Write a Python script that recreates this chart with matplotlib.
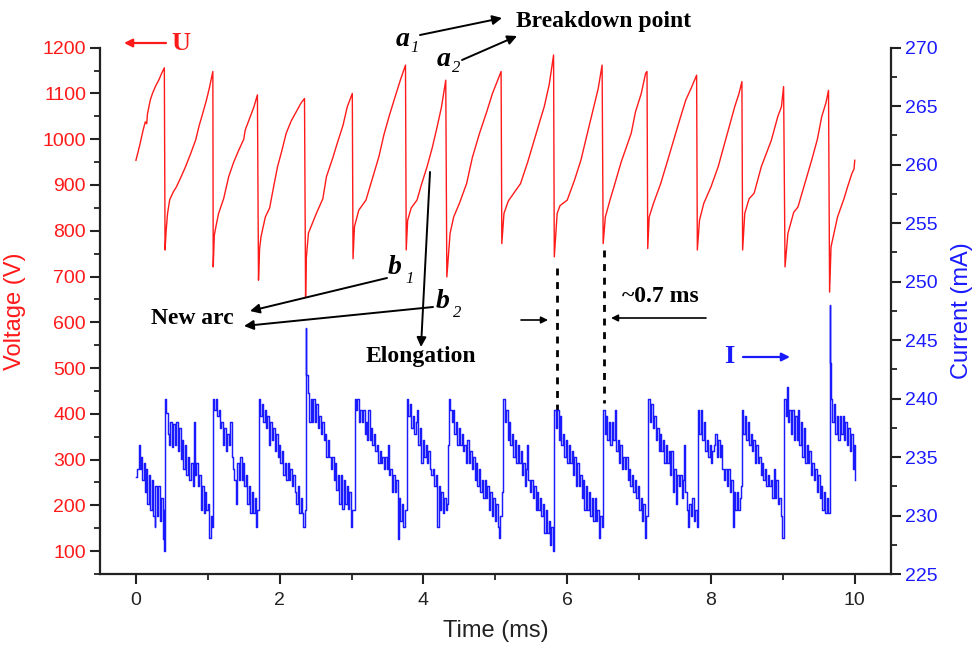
import matplotlib
matplotlib.use("Agg")
import matplotlib.pyplot as plt
from matplotlib.ticker import MultipleLocator

plt.rcParams['font.family'] = ['Liberation Sans', 'DejaVu Sans']

# ---------------- data ----------------
# Voltage U (V) vs time (ms)
volt_t = [
    0.00, 0.05, 0.10, 0.13, 0.15, 0.16, 0.20, 0.23, 0.27, 0.32, 0.36, 0.395,
    0.405, 0.42, 0.44, 0.47, 0.52, 0.56, 0.62, 0.69, 0.76, 0.83, 0.88, 0.93, 0.98, 1.02, 1.06, 1.07,
    1.075, 1.09, 1.12, 1.15, 1.22, 1.29, 1.36, 1.43, 1.50, 1.52, 1.58, 1.64, 1.69,
    1.705, 1.72, 1.74, 1.80, 1.86, 1.92, 1.97, 2.03, 2.09, 2.16, 2.23, 2.30, 2.345,
    2.36, 2.37, 2.40, 2.51, 2.60, 2.65, 2.74, 2.80, 2.88, 2.94, 3.01,
    3.02, 3.04, 3.10, 3.20, 3.30, 3.38, 3.45, 3.52, 3.60, 3.68, 3.75,
    3.76, 3.78, 3.83, 3.91, 3.97, 4.05, 4.12, 4.19, 4.25, 4.31,
    4.325, 4.37, 4.42, 4.50, 4.60, 4.68, 4.78, 4.88, 4.96, 5.08,
    5.09, 5.12, 5.18, 5.35, 5.45, 5.54, 5.62, 5.68, 5.75, 5.81,
    5.82, 5.86, 5.90, 6.00, 6.10, 6.19, 6.26, 6.37, 6.43, 6.485,
    6.50, 6.53, 6.60, 6.65, 6.75, 6.89, 6.95, 7.03, 7.09, 7.11,
    7.12, 7.14, 7.20, 7.30, 7.39, 7.48, 7.56, 7.65, 7.72, 7.80,
    7.81, 7.84, 7.90, 8.00, 8.10, 8.19, 8.26, 8.33, 8.39, 8.43,
    8.44, 8.47, 8.53, 8.60, 8.70, 8.84, 8.93, 8.98, 9.01,
    9.03, 9.07, 9.15, 9.21, 9.30, 9.40, 9.48, 9.54, 9.60, 9.635,
    9.65, 9.67, 9.76, 9.85, 9.90, 9.96, 9.99, 10.00,
]
volt_v = [
    954, 985, 1020, 1038, 1034, 1055, 1086, 1100, 1115, 1130, 1145, 1156,
    758, 800, 838, 868, 885, 895, 915, 940, 968, 998, 1030, 1057, 1085, 1111, 1140, 1148,
    721, 790, 815, 838, 870, 918, 950, 976, 1000, 1020, 1045, 1070, 1097,
    692, 760, 787, 830, 850, 900, 940, 975, 1013, 1040, 1060, 1080, 1089,
    655, 740, 795, 838, 870, 918, 960, 991, 1030, 1071, 1100,
    739, 809, 845, 867, 920, 962, 1010, 1049, 1090, 1130, 1162,
    758, 823, 850, 867, 900, 940, 980, 1027, 1070, 1129,
    699, 794, 830, 860, 903, 960, 1013, 1060, 1100, 1148,
    772, 838, 865, 903, 950, 998, 1040, 1071, 1120, 1184,
    743, 838, 855, 867, 910, 954, 1000, 1071, 1110, 1162,
    772, 830, 870, 896, 950, 1013, 1060, 1100, 1144, 1148,
    761, 830, 860, 903, 950, 998, 1040, 1086, 1110, 1140,
    758, 823, 860, 896, 940, 991, 1030, 1071, 1100, 1126,
    758, 838, 870, 882, 940, 998, 1050, 1071, 1115,
    721, 794, 840, 852, 900, 954, 1000, 1049, 1080, 1107,
    666, 765, 830, 870, 896, 925, 935, 954,
]

# Current I (mA) vs time (ms)
curr_t = [
    0.00, 0.02, 0.04, 0.05, 0.07, 0.09, 0.11, 0.12, 0.14, 0.16, 0.18, 0.20, 0.22, 0.24, 0.26, 0.27, 0.29, 0.31, 0.33, 0.35, 0.37, 0.385, 0.395,
    0.405, 0.42, 0.44, 0.46, 0.48, 0.50, 0.52, 0.54, 0.56, 0.58, 0.60, 0.62, 0.64, 0.66, 0.68, 0.70, 0.72, 0.74, 0.76, 0.79, 0.81, 0.82, 0.84, 0.86, 0.88, 0.90, 0.92, 0.94, 0.96, 0.98, 1.00, 1.02, 1.04, 1.06,
    1.075, 1.09, 1.11, 1.13, 1.15, 1.17, 1.19, 1.21, 1.23, 1.25, 1.27, 1.29, 1.31, 1.33, 1.35, 1.37, 1.39, 1.41, 1.43, 1.45, 1.47, 1.49, 1.51, 1.53, 1.55, 1.57, 1.59, 1.61, 1.63, 1.65, 1.67, 1.69,
    1.71, 1.73, 1.75, 1.77, 1.79, 1.81, 1.83, 1.85, 1.87, 1.89, 1.91, 1.93, 1.95, 1.97, 1.99, 2.01, 2.03, 2.05, 2.07, 2.09, 2.11, 2.13, 2.15, 2.17, 2.19, 2.21, 2.23, 2.25, 2.27, 2.29, 2.31, 2.33, 2.35,
    2.36, 2.37, 2.39, 2.41, 2.43, 2.45, 2.47, 2.49, 2.51, 2.53, 2.55, 2.57, 2.59, 2.61, 2.63, 2.65, 2.67, 2.69, 2.71, 2.73, 2.75, 2.77, 2.79, 2.81, 2.83, 2.85, 2.87, 2.89, 2.91, 2.93, 2.95, 2.97, 2.99, 3.01,
    3.045, 3.06, 3.08, 3.10, 3.12, 3.14, 3.16, 3.18, 3.20, 3.22, 3.23, 3.25, 3.27, 3.29, 3.31, 3.33, 3.35, 3.37, 3.39, 3.41, 3.43, 3.45, 3.47, 3.49, 3.50, 3.52, 3.54, 3.56, 3.58, 3.60, 3.62, 3.64, 3.66, 3.68, 3.70, 3.72, 3.74,
    3.775, 3.79, 3.81, 3.83, 3.85, 3.87, 3.89, 3.91, 3.93, 3.95, 3.97, 3.99, 4.01, 4.03, 4.05, 4.07, 4.09, 4.11, 4.13, 4.15, 4.17, 4.19, 4.21, 4.23, 4.25, 4.27, 4.29, 4.31, 4.33,
    4.345, 4.355, 4.37, 4.39, 4.41, 4.43, 4.45, 4.47, 4.49, 4.51, 4.53, 4.55, 4.57, 4.59, 4.61, 4.63, 4.65, 4.67, 4.69, 4.71, 4.73, 4.75, 4.77, 4.79, 4.81, 4.83, 4.85, 4.87, 4.89, 4.91, 4.93, 4.95, 4.97, 4.99, 5.01, 5.03, 5.05, 5.07, 5.09,
    5.11, 5.13, 5.15, 5.17, 5.19, 5.21, 5.23, 5.25, 5.27, 5.29, 5.31, 5.33, 5.35, 5.37, 5.39, 5.41, 5.43, 5.44, 5.46, 5.48, 5.50, 5.52, 5.54, 5.56, 5.58, 5.60, 5.62, 5.64, 5.66, 5.68, 5.70, 5.72, 5.74, 5.76, 5.78, 5.80,
    5.82, 5.84, 5.86, 5.88, 5.90, 5.92, 5.94, 5.96, 5.98, 6.00, 6.02, 6.04, 6.06, 6.08, 6.10, 6.12, 6.14, 6.16, 6.18, 6.20, 6.22, 6.24, 6.26, 6.28, 6.30, 6.32, 6.34, 6.36, 6.38, 6.40, 6.42, 6.44, 6.46, 6.48,
    6.50, 6.52, 6.54, 6.56, 6.58, 6.60, 6.62, 6.64, 6.66, 6.68, 6.70, 6.72, 6.74, 6.76, 6.78, 6.80, 6.82, 6.84, 6.86, 6.88, 6.90, 6.92, 6.94, 6.96, 6.98, 7.00, 7.02, 7.04, 7.06, 7.08, 7.10,
    7.13, 7.15, 7.17, 7.19, 7.21, 7.23, 7.25, 7.27, 7.29, 7.31, 7.33, 7.35, 7.37, 7.39, 7.41, 7.43, 7.45, 7.47, 7.49, 7.51, 7.53, 7.55, 7.57, 7.59, 7.61, 7.63, 7.64, 7.66, 7.68, 7.70, 7.72, 7.74, 7.76, 7.78, 7.80,
    7.82, 7.84, 7.86, 7.88, 7.90, 7.92, 7.94, 7.96, 7.98, 8.00, 8.02, 8.04, 8.06, 8.08, 8.10, 8.12, 8.14, 8.16, 8.18, 8.20, 8.22, 8.24, 8.26, 8.28, 8.30, 8.32, 8.34, 8.36, 8.38, 8.40, 8.42,
    8.43, 8.45, 8.47, 8.49, 8.51, 8.53, 8.55, 8.57, 8.59, 8.61, 8.63, 8.65, 8.67, 8.69, 8.71, 8.73, 8.75, 8.77, 8.79, 8.81, 8.83, 8.85, 8.87, 8.89, 8.91, 8.93, 8.95, 8.97, 8.99, 9.01,
    9.02, 9.04, 9.06, 9.07, 9.09, 9.11, 9.13, 9.15, 9.17, 9.19, 9.21, 9.23, 9.25, 9.27, 9.29, 9.31, 9.33, 9.35, 9.37, 9.39, 9.41, 9.43, 9.45, 9.47, 9.49, 9.51, 9.53, 9.55, 9.57, 9.59, 9.61, 9.63,
    9.65, 9.66, 9.67, 9.69, 9.71, 9.73, 9.75, 9.77, 9.79, 9.81, 9.83, 9.85, 9.87, 9.89, 9.91, 9.93, 9.95, 9.97, 9.99, 10.00,
]
curr_v = [
    233.3, 234.0, 236.0, 234.0, 235.0, 233.0, 234.5, 232.0, 234.0, 231.0, 233.5, 230.5, 233.0, 230.0, 229.0, 232.5, 230.0, 232.5, 229.5, 231.5, 228.0, 230.5, 227.0,
    240.0, 238.8, 237.0, 236.0, 238.0, 235.9, 237.8, 236.0, 238.0, 235.5, 237.5, 234.8, 236.5, 234.0, 236.0, 233.5, 235.0, 233.0, 234.5, 232.5, 238.0, 233.5, 234.5, 232.5, 233.5, 230.5, 232.5, 230.2, 232.0, 230.5, 231.0, 228.1, 230.0, 229.0,
    240.0, 239.0, 240.0, 238.5, 239.0, 237.5, 238.0, 236.0, 237.5, 235.5, 237.0, 236.0, 238.0, 235.0, 234.0, 233.0, 231.0, 234.5, 233.0, 235.0, 233.0, 234.5, 232.5, 233.5, 231.0, 232.5, 230.2, 232.0, 230.2, 231.5, 229.0, 230.5,
    240.0, 238.5, 239.5, 238.0, 239.0, 237.5, 238.5, 236.0, 238.0, 236.5, 237.5, 235.5, 237.0, 235.0, 236.0, 234.5, 235.5, 233.5, 234.5, 233.0, 234.5, 233.0, 234.0, 232.5, 233.5, 232.0, 231.0, 232.5, 230.2, 231.5, 230.2, 229.0, 230.5,
    246.0, 242.0, 240.5, 238.0, 240.0, 238.0, 240.0, 238.0, 239.5, 237.5, 238.5, 237.0, 238.0, 236.5, 237.0, 235.0, 236.5, 235.0, 234.0, 235.0, 233.0, 234.5, 232.2, 233.5, 231.0, 233.5, 230.6, 233.0, 231.0, 232.5, 230.6, 232.0, 229.0, 230.5,
    240.0, 239.0, 240.0, 238.0, 239.0, 238.0, 239.0, 237.0, 238.0, 236.5, 239.0, 236.5, 237.5, 236.0, 237.0, 235.5, 236.0, 234.5, 235.5, 234.5, 235.0, 234.0, 235.0, 234.0, 236.0, 233.5, 234.0, 232.0, 233.5, 232.0, 233.0, 228.0, 231.5, 229.5, 231.0, 229.0, 230.5,
    240.0, 238.5, 239.5, 237.5, 238.5, 237.0, 238.0, 239.0, 236.0, 237.5, 234.5, 236.5, 235.0, 236.0, 234.5, 235.5, 234.0, 233.5, 234.0, 232.5, 233.5, 229.0, 232.5, 230.5, 232.0, 230.2, 231.5, 230.5, 231.0,
    236.0, 240.0, 239.0, 238.0, 239.0, 237.0, 238.0, 236.0, 237.5, 236.0, 237.0, 235.5, 236.0, 234.5, 236.5, 234.5, 235.5, 234.0, 235.0, 233.0, 234.5, 232.5, 234.0, 232.0, 233.0, 231.5, 233.0, 231.5, 232.5, 230.5, 232.0, 230.0, 231.5, 229.5, 231.0, 229.0, 228.1, 230.0, 232.0,
    240.0, 238.0, 239.0, 236.5, 238.0, 236.0, 237.0, 235.0, 236.5, 234.5, 236.0, 234.5, 235.5, 233.5, 234.5, 232.5, 234.0, 236.0, 233.0, 232.0, 233.0, 231.5, 232.5, 230.5, 232.0, 230.5, 231.5, 230.0, 231.0, 228.5, 230.5, 228.5, 229.5, 227.5, 229.0, 227.0,
    239.0, 237.5, 239.0, 236.5, 238.5, 236.0, 237.0, 235.0, 236.5, 234.5, 236.0, 234.5, 235.5, 233.5, 235.0, 232.5, 234.5, 232.5, 233.5, 231.5, 233.0, 230.5, 232.5, 230.5, 232.0, 230.0, 231.5, 229.5, 231.5, 229.5, 230.5, 228.1, 230.0, 229.0,
    239.0, 237.0, 238.5, 236.5, 238.0, 236.0, 238.0, 236.5, 239.0, 235.5, 236.5, 234.5, 236.0, 234.0, 235.0, 234.0, 235.0, 233.0, 234.0, 232.5, 233.5, 232.0, 233.0, 231.5, 232.5, 230.5, 231.5, 229.5, 231.0, 228.1, 230.0,
    240.0, 238.0, 239.5, 237.5, 238.5, 236.5, 237.5, 235.5, 237.0, 235.5, 236.5, 234.5, 236.0, 234.5, 235.5, 233.5, 235.5, 232.0, 234.0, 231.0, 233.5, 232.5, 233.5, 231.5, 233.0, 236.0, 232.0, 230.5, 229.0, 231.0, 230.0, 231.5, 229.5, 230.5, 229.0,
    239.0, 237.0, 239.0, 236.5, 238.0, 235.5, 236.5, 235.0, 236.0, 234.5, 235.5, 236.0, 237.0, 235.0, 236.5, 235.0, 236.0, 234.0, 233.0, 234.0, 232.5, 234.0, 232.0, 233.0, 229.0, 232.0, 230.5, 232.0, 230.5, 231.5, 232.5,
    239.0, 237.0, 238.5, 236.5, 238.0, 236.0, 237.0, 235.5, 236.5, 234.5, 236.0, 234.5, 235.0, 233.5, 234.5, 233.0, 234.0, 232.5, 233.5, 232.5, 233.0, 231.5, 234.0, 231.5, 233.0, 231.0, 231.5, 230.0, 228.1, 230.0,
    240.0, 238.5, 241.0, 238.0, 239.0, 237.0, 239.0, 236.5, 238.5, 236.5, 239.0, 236.0, 238.0, 235.0, 237.5, 234.5, 236.0, 234.5, 235.5, 233.5, 234.5, 233.0, 234.0, 232.0, 233.5, 231.5, 232.5, 230.5, 232.0, 230.2, 231.5, 230.2,
    248.0, 243.0, 240.0, 238.0, 239.5, 237.0, 238.5, 236.5, 238.5, 237.0, 238.5, 236.5, 238.0, 236.0, 237.5, 235.5, 237.0, 234.0, 236.0, 233.0,
]

v_ticks = list(range(100, 1201, 100))
i_ticks = list(range(225, 271, 5))
t_ticks = [0, 2, 4, 6, 8, 10]

# ---------------- figure ----------------
W, H = 974, 652
fig = plt.figure(figsize=(W / 100, H / 100), dpi=100)
ax = fig.add_axes([100 / W, 1 - 574 / H, (890.7 - 100) / W, (574 - 47.7) / H])
ax2 = ax.twinx()

RED = '#ff1a1a'
BLUE = '#1a1aff'

ax.plot(volt_t, volt_v, color=RED, lw=1.0, zorder=3)
ax2.plot(curr_t, curr_v, color=BLUE, lw=1.05, drawstyle='steps-post', zorder=3)

ax.set_xlim(-0.5, 10.5)
ax.set_ylim(50, 1200)
ax2.set_ylim(225, 270)

ax.set_xticks(t_ticks)
ax.xaxis.set_minor_locator(MultipleLocator(1))
ax.set_yticks(v_ticks)
ax.yaxis.set_minor_locator(MultipleLocator(50))
ax2.set_yticks(i_ticks)
ax2.yaxis.set_minor_locator(MultipleLocator(2.5))

for a in (ax, ax2):
    a.spines['top'].set_visible(False)
    for s in a.spines.values():
        s.set_linewidth(1.6)
        s.set_color('#222222')
ax.spines['right'].set_visible(False)
ax2.spines['left'].set_visible(False)
ax2.spines['bottom'].set_visible(False)

ax.tick_params(axis='both', which='major', direction='out', length=7, width=1.5,
               labelsize=14, pad=3, color='#222222')
ax.tick_params(axis='both', which='minor', direction='out', length=4, width=1.3, color='#222222')
ax.tick_params(axis='y', labelcolor=RED)
ax.tick_params(axis='x', labelcolor='#222222', pad=6)
ax2.tick_params(axis='y', which='major', direction='out', length=7, width=1.5,
                labelsize=14, pad=3, labelcolor=BLUE, color='#222222')
ax2.tick_params(axis='y', which='minor', direction='out', length=4, width=1.3, color='#222222')

ax.set_xlabel('Time (ms)', fontsize=17, color='#222222', labelpad=8)
ax.set_ylabel('Voltage (V)', fontsize=17, color=RED, labelpad=12)
ax2.set_ylabel('Current (mA)', fontsize=17, color=BLUE, rotation=90, labelpad=10)

# dashed markers of one period
ax.plot([5.852, 5.852], [718, 408], color='k', lw=2.0, ls=(0, (2.5, 2.4)), zorder=4)
ax.plot([6.508, 6.508], [758, 423], color='k', lw=2.0, ls=(0, (2.5, 2.4)), zorder=4)

# ---------------- annotations (figure pixel positions) ----------------
def P(x, y):
    return (x / W, 1 - y / H)

SERIF = ['Liberation Serif', 'DejaVu Serif']

def arrow(x0, y0, x1, y1, color='k', lw=1.4, ms=14):
    fig.add_artist(matplotlib.patches.FancyArrowPatch(
        P(x0, y0), P(x1, y1), transform=fig.transFigure,
        arrowstyle='-|>', mutation_scale=ms, color=color, lw=lw,
        shrinkA=0, shrinkB=0))

def label(x, y, s, size=17, color='k', style='normal', weight='bold', ha='left'):
    fig.text(*P(x, y), s, fontsize=size, color=color, fontfamily=SERIF,
             fontweight=weight, fontstyle=style, ha=ha, va='center')

# Breakdown point
label(516, 22, 'Breakdown point', size=17)
label(396, 39, 'a', size=20, style='italic')
label(410, 48, '1', size=12, style='italic', weight='normal')
label(437, 59, 'a', size=20, style='italic')
label(452, 68, '2', size=12, style='italic', weight='normal')
arrow(420, 35, 502, 18)
arrow(462, 60, 517, 36)

# U / I markers
arrow(166, 43, 124, 43, color=RED, lw=1.6, ms=12)
label(171, 43, 'U', size=19, color=RED)
label(724, 357, 'I', size=19, color=BLUE)
arrow(743, 357, 790, 357, color=BLUE, lw=1.6, ms=12)

# New arc
label(151, 318, 'New arc', size=17)
label(388, 267, 'b', size=20, style='italic')
label(405, 279, '1', size=12, style='italic', weight='normal')
label(436, 302, 'b', size=20, style='italic')
label(453, 313, '2', size=12, style='italic', weight='normal')
arrow(387, 278, 250, 311)
arrow(433, 307, 244, 326)

# Elongation
arrow(430, 172, 421, 347)
label(421, 357, 'Elongation', size=17, ha='center')

# ~0.7 ms
label(660, 297, '~0.7 ms', size=17, ha='center')
arrow(521, 320, 548, 320, lw=1.2, ms=10)
arrow(706, 318, 611, 318, lw=1.2, ms=10)

fig.savefig('out.png', dpi=100)
